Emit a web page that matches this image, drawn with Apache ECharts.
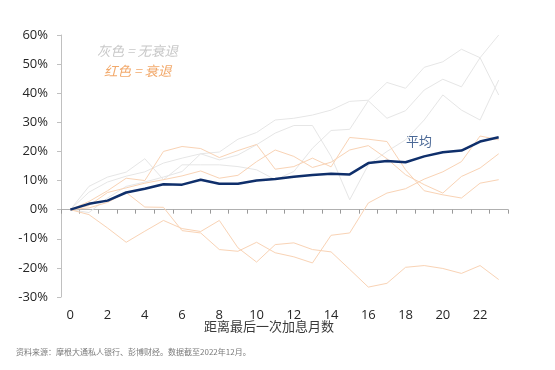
<!DOCTYPE html>
<html>
<head>
<meta charset="utf-8">
<script src="https://cdn.jsdelivr.net/npm/echarts@6/dist/echarts.min.js"></script>
<style>
html,body{margin:0;padding:0;background:#fff;}
#chart{width:555px;height:370px;}
</style>
</head>
<body>
<div id="chart"></div>
<script>
// Months since the last rate hike
const categories = ['0','1','2','3','4','5','6','7','8','9','10','11','12','13','14','15','16','17','18','19','20','21','22','23'];
// Average (dark blue)
const average = [0, 2.0, 3.1, 5.9, 7.2, 8.7, 8.6, 10.3, 8.9, 8.9, 10.0, 10.5, 11.3, 11.9, 12.3, 12.1, 16.0, 16.7, 16.3, 18.3, 19.7, 20.3, 23.4, 24.9];
// Grey = no recession
const grey1 = [0, 6, 9.5, 11.5, 13, 16, 17.7, 19.2, 19.8, 24.2, 26.5, 30.8, 31.4, 32.5, 34.2, 37.2, 37.6, 43.7, 41.7, 48.9, 50.8, 55.1, 52.2, 60];
const grey2 = [0, -1, 4, 8, 9.5, 11.2, 13.1, 19.2, 17.1, 18.8, 22.3, 26.3, 28.9, 28.9, 18.3, 3.4, 15.4, 20, 24, 30.8, 39.4, 34.2, 30.8, 44.5];
const grey3 = [0, 8, 11.2, 12.9, 17.5, 10.3, 15.4, 15.4, 15.4, 14.8, 13.7, 10.3, 13.1, 21.1, 27.2, 27.6, 37.4, 31.4, 34.0, 41.1, 44.8, 42.2, 52.2, 39.4];
// Orange = recession
const orange1 = [0, -1.7, -6.3, -11.2, -7.4, -3.7, -6.5, -7.5, -3.7, -13.1, -18, -12, -11.4, -13.7, -14.5, -20.5, -26.6, -25.3, -19.8, -19.2, -20.2, -21.9, -19.2, -24];
const orange2 = [0, 0.6, 2.5, 5.9, 0.9, 0.8, -7.2, -8, -13.7, -14.3, -11.2, -14.8, -16.2, -18.3, -8.8, -8, 2.3, 5.7, 7.2, 10.5, 13.0, 16.5, 25.3, 24];
const orange3 = [0, 2.8, 6.5, 10.8, 10.0, 20, 21.7, 21.0, 17.9, 20.3, 22.4, 13.9, 14.8, 17.7, 14.7, 24.8, 24.2, 23.4, 13.7, 6.5, 5.1, 4.0, 9.1, 10.3];
const orange4 = [0, 1.4, 5.9, 7.5, 9.1, 10.3, 11.6, 13.3, 10.8, 11.8, 16.5, 20.5, 18.3, 14.5, 16.3, 20.5, 22, 17.5, 12, 8.6, 5.7, 11.4, 14.3, 19.2];
// Y tick labels
const yTicks = [-30, -20, -10, 0, 10, 20, 30, 40, 50, 60];

const greyColor = '#e6e6e6';
const orangeColor = '#f9d3b5';
const thin = (name, data, color) => ({
  name, type: 'line', data, xAxisIndex: 0, yAxisIndex: 0,
  symbol: 'none', smooth: false, silent: true,
  lineStyle: { color, width: 1 }, z: 2
});

const chart = echarts.init(document.getElementById('chart'), null, { renderer: 'canvas' });
chart.setOption({
  animation: false,
  backgroundColor: '#ffffff',
  grid: { left: 61, top: 35, width: 447, height: 262, outerBoundsMode: 'none', containLabel: false },
  xAxis: [
    {
      type: 'category', data: categories, boundaryGap: true, position: 'bottom',
      axisLine: { show: true, onZero: true, onZeroAxisIndex: 0, lineStyle: { color: '#b0b0b0', width: 1 } },
      axisTick: { show: true, interval: 0, length: 4, inside: false, lineStyle: { color: '#999999' } },
      axisLabel: { show: false }, splitLine: { show: false }
    },
    {
      type: 'category', data: categories, boundaryGap: true, position: 'bottom',
      axisLine: { show: false, onZero: false }, axisTick: { show: false },
      axisLabel: { show: true, interval: 1, margin: 12, fontSize: 13, color: '#262626', fontFamily: 'Open Sans' },
      splitLine: { show: false }
    }
  ],
  yAxis: {
    type: 'value', min: yTicks[0], max: yTicks[yTicks.length - 1], interval: 10,
    axisLine: { show: true, lineStyle: { color: '#c0c0c0', width: 1 } },
    axisTick: { show: true, length: 4, inside: false, lineStyle: { color: '#c0c0c0' } },
    axisLabel: { margin: 13, fontSize: 13, color: '#262626', fontFamily: 'Open Sans', formatter: v => v + '%' },
    splitLine: { show: false }
  },
  series: [
    thin('g1', grey1, greyColor),
    thin('g2', grey2, greyColor),
    thin('g3', grey3, greyColor),
    thin('o1', orange1, orangeColor),
    thin('o2', orange2, orangeColor),
    thin('o3', orange3, orangeColor),
    thin('o4', orange4, orangeColor),
    {
      name: '平均', type: 'line', data: average, symbol: 'none', z: 5, silent: true,
      lineStyle: { color: '#0f2f6b', width: 2.5 }
    }
  ],
  graphic: [
    { type: 'text', left: 97, top: 44, style: { text: '灰色 = 无衰退', fontSize: 13.5, fontStyle: 'italic', fill: '#c8c8c8', fontFamily: 'Noto Sans CJK SC' } },
    { type: 'text', left: 104, top: 64, style: { text: '红色 = 衰退', fontSize: 13.5, fontStyle: 'italic', fill: '#f2a96b', fontFamily: 'Noto Sans CJK SC' } },
    { type: 'text', left: 406, top: 135, style: { text: '平均', fontSize: 13, fill: '#4a6896', fontFamily: 'Noto Sans CJK SC' } },
    { type: 'text', left: 204, top: 320, style: { text: '距离最后一次加息月数', fontSize: 13, fill: '#3a3a3a', fontFamily: 'Noto Sans CJK SC' } },
    { type: 'text', left: 16, top: 348, style: { text: '资料来源：摩根大通私人银行、彭博财经。数据截至2022年12月。', fontSize: 8, fill: '#7a7a7a', fontFamily: 'Noto Sans CJK SC' } }
  ]
});
</script>
</body>
</html>
